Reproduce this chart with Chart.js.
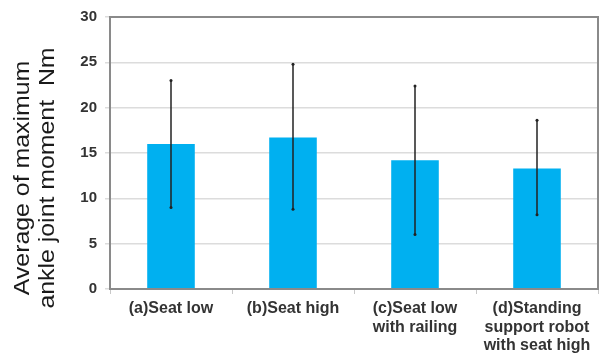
<!DOCTYPE html>
<html>
<head>
<meta charset="utf-8">
<script src="https://cdn.jsdelivr.net/npm/chart.js@4.4.1/dist/chart.umd.min.js"></script>
<style>
  html, body { margin: 0; padding: 0; background: #fff; }
  #wrap { width: 600px; height: 358px; }
</style>
</head>
<body>
<div id="wrap"><canvas id="momentChart"></canvas></div>
<script>
const categories = [
  ['(a)Seat low'],
  ['(b)Seat high'],
  ['(c)Seat low', 'with railing'],
  ['(d)Standing', 'support robot', 'with seat high'],
];
const means = [16.0, 16.7, 14.2, 13.3];
const errLow = [9.0, 8.8, 6.0, 8.2];
const errHigh = [23.0, 24.8, 22.4, 18.6];
const yTicks = [0, 5, 10, 15, 20, 25, 30];
const yTitle = ['Average of maximum', 'ankle joint moment  Nm'];

// error bars drawn from errLow / errHigh through the y scale
const errorBars = {
  id: 'errorBars',
  afterDatasetsDraw(chart) {
    const ctx = chart.ctx;
    const y = chart.scales.y;
    const meta = chart.getDatasetMeta(0);
    ctx.save();
    ctx.strokeStyle = '#222';
    ctx.fillStyle = '#222';
    ctx.lineWidth = 1.5;
    meta.data.forEach((bar, i) => {
      const top = y.getPixelForValue(errHigh[i]);
      const bot = y.getPixelForValue(errLow[i]);
      ctx.beginPath();
      ctx.moveTo(bar.x, top);
      ctx.lineTo(bar.x, bot);
      ctx.stroke();
      [top, bot].forEach((py) => {
        ctx.beginPath();
        ctx.arc(bar.x, py, 1.5, 0, Math.PI * 2);
        ctx.fill();
      });
    });
    ctx.restore();
  },
};

// box round the plot area + the (slightly stretched) y title
const plotBox = {
  id: 'plotBox',
  afterDraw(chart) {
    const a = chart.chartArea;
    const ctx = chart.ctx;
    ctx.save();
    ctx.strokeStyle = '#8a8a8a';
    ctx.lineWidth = 2;
    ctx.strokeRect(a.left, a.top, a.right - a.left, a.bottom - a.top);
    ctx.restore();

    ctx.save();
    ctx.fillStyle = '#1a1a1a';
    ctx.font = '22px "Liberation Sans"';
    ctx.textAlign = 'center';
    ctx.textBaseline = 'middle';
    const cy = (a.top + a.bottom) / 2 + 25;
    yTitle.forEach((line, i) => {
      ctx.save();
      ctx.translate(23 + i * 25, cy);
      ctx.rotate(-Math.PI / 2);
      ctx.scale(1.13, 1);
      ctx.fillText(line, 0, 0);
      ctx.restore();
    });
    ctx.restore();
  },
};

const ctx = document.getElementById('momentChart').getContext('2d');
new Chart(ctx, {
  type: 'bar',
  data: {
    labels: categories,
    datasets: [
      {
        data: means,
        backgroundColor: '#00b0f0',
        borderWidth: 0,
        categoryPercentage: 1,
        barPercentage: 0.39,
      },
    ],
  },
  options: {
    responsive: true,
    maintainAspectRatio: false,
    animation: false,
    layout: { padding: { top: 9, right: 2, left: 0, bottom: 0 } },
    plugins: {
      legend: { display: false },
      tooltip: { enabled: false },
    },
    scales: {
      x: {
        grid: {
          display: true,
          drawOnChartArea: false,
          color: '#c8c8c8',
          tickLength: 5,
        },
        border: { display: false },
        ticks: {
          color: '#333',
          padding: 6,
          maxRotation: 0,
          autoSkip: false,
          font: { family: 'Liberation Sans', size: 16, weight: 'bold', lineHeight: 1.13 },
        },
        afterFit(scale) {
          scale.height = 69;
        },
      },
      y: {
        min: 0,
        max: 30,
        afterBuildTicks(scale) {
          scale.ticks = yTicks.map((v) => ({ value: v }));
        },
        grid: {
          color: '#dcdcdc',
          lineWidth: 1.5,
          tickLength: 5,
        },
        border: { display: false },
        ticks: {
          color: '#333',
          padding: 8,
          font: { family: 'Liberation Sans', size: 15, weight: 'bold' },
        },
        afterFit(scale) {
          scale.width = 110;
        },
      },
    },
  },
  plugins: [errorBars, plotBox],
});
</script>
</body>
</html>
